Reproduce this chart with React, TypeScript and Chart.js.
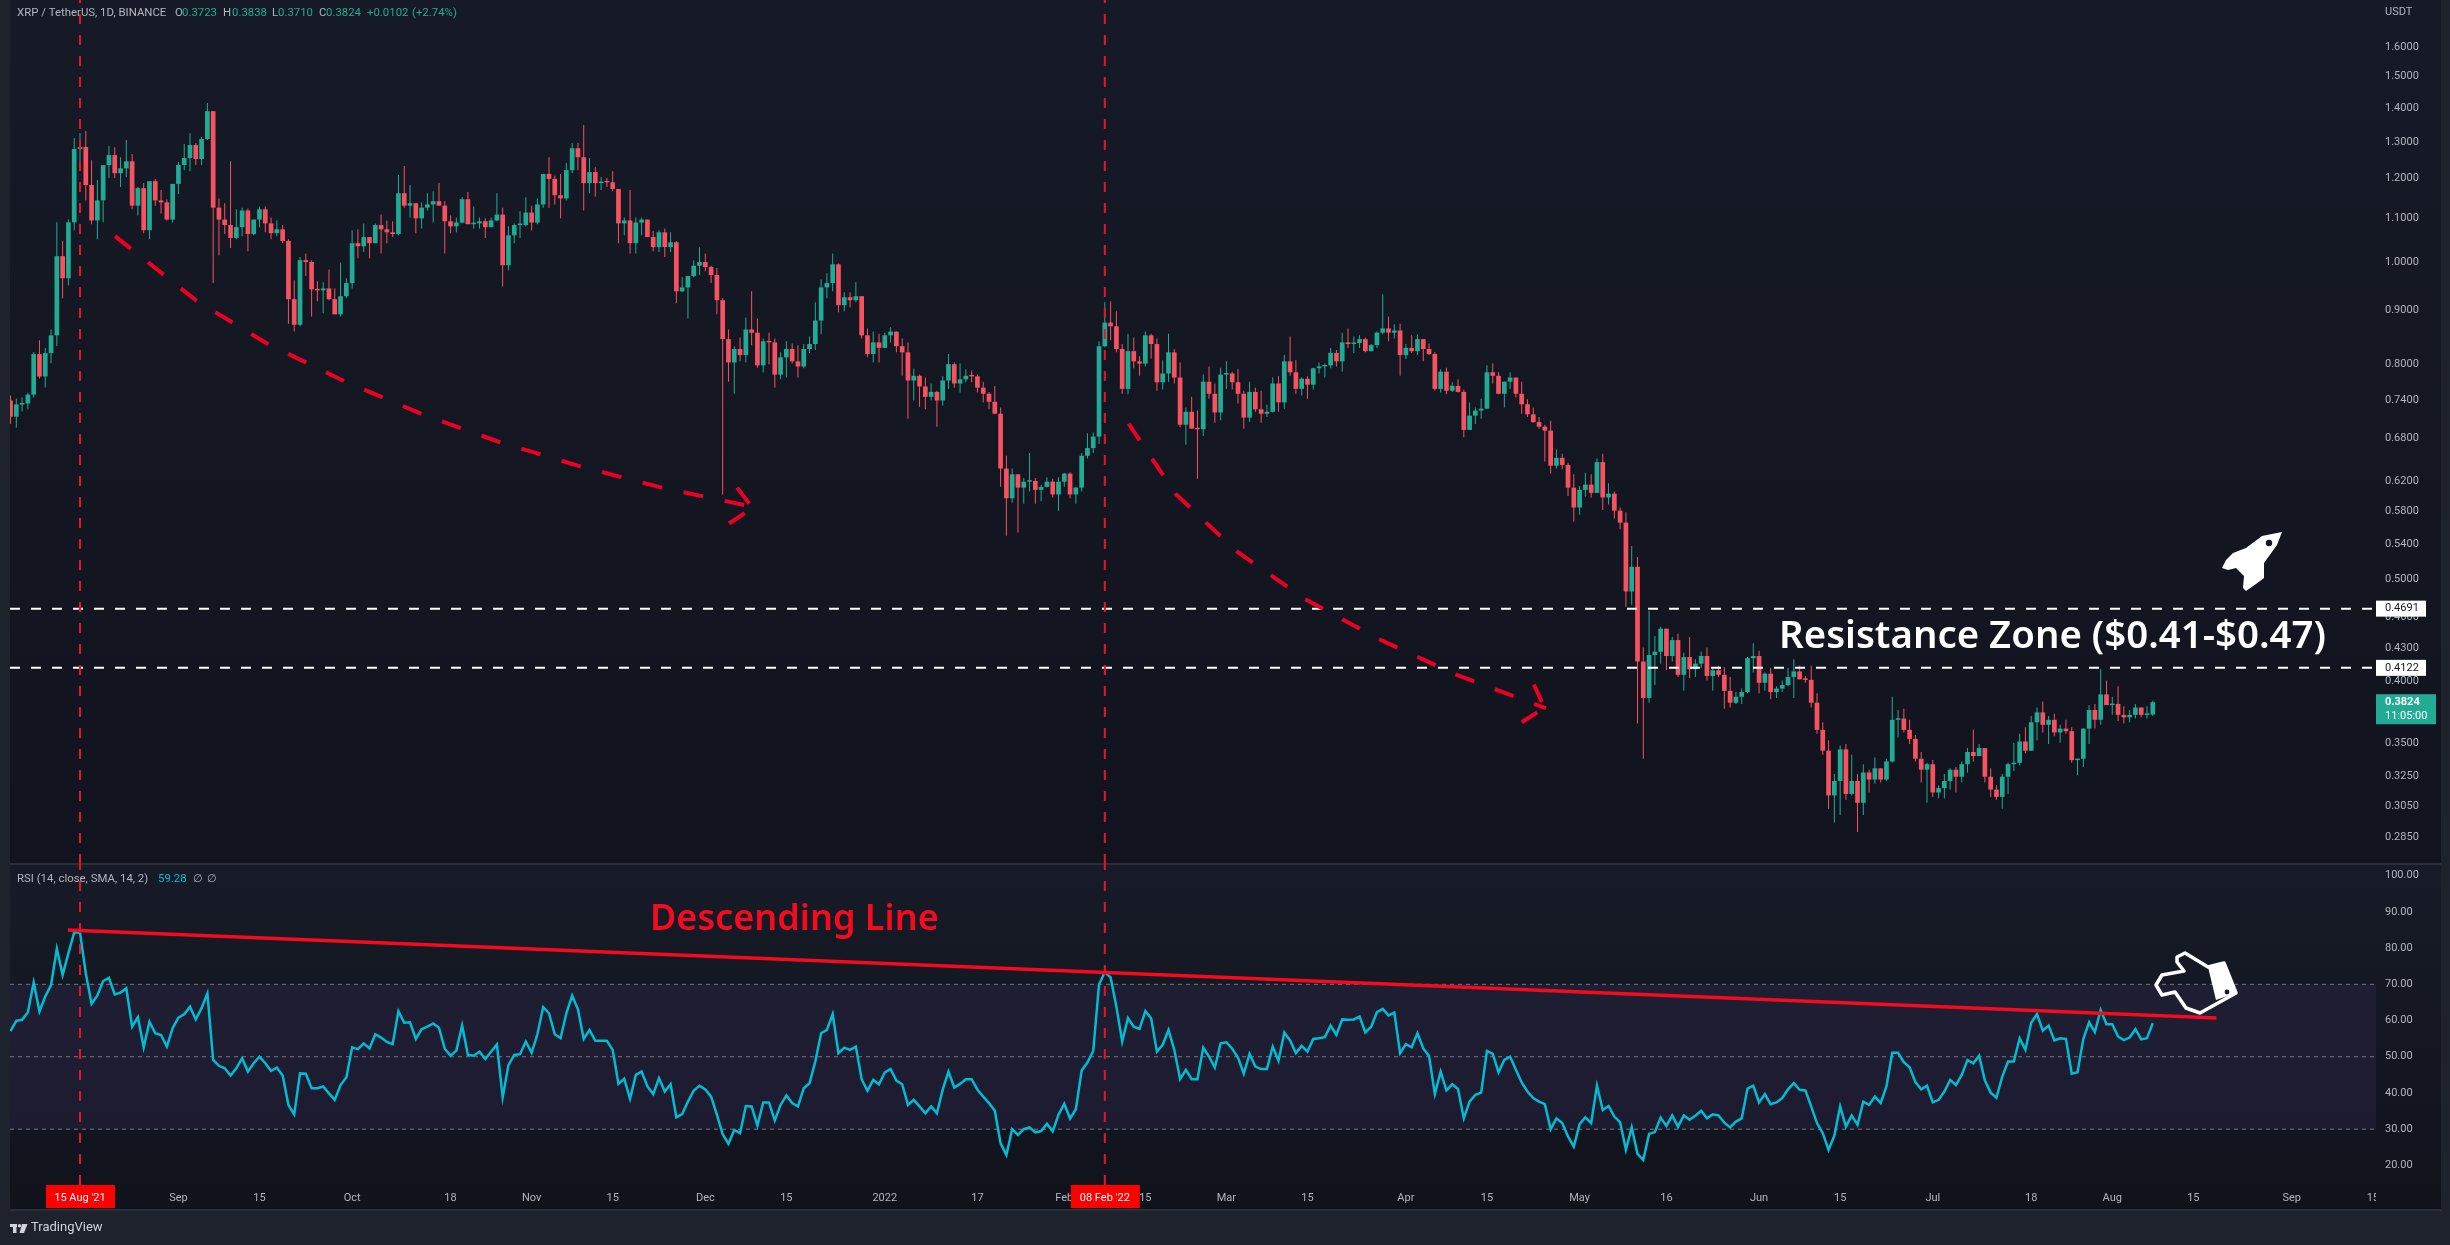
import React, { useEffect, useRef } from "react";
import { Chart, registerables } from "chart.js";

Chart.register(...registerables);

const firstOpen = 0.739;
const closes = [
  .7134,.7326,.7342,.7486,.8178,.7788,.8196,.852,1.0128,.9652,
  1.0904,1.2798,1.2854,1.183,1.095,1.144,1.2355,1.263,1.214,1.227,
  1.246,1.131,1.175,1.072,1.193,1.144,1.139,1.097,1.186,1.236,
  1.255,1.291,1.252,1.308,1.390,1.126,1.097,1.084,1.054,1.079,
  1.119,1.063,1.097,1.122,1.088,1.065,1.074,1.047,.922,.872,
  1.004,1.000,.942,.940,.944,.922,.892,.928,.955,1.042,
  1.035,1.056,1.042,1.084,1.074,1.067,1.063,1.162,1.131,1.137,
  1.100,1.126,1.134,1.142,1.131,1.093,1.081,1.090,1.147,1.086,
  1.088,1.093,1.079,1.095,1.109,.993,1.060,1.084,1.084,1.114,
  1.090,1.134,1.212,1.199,1.157,1.149,1.222,1.282,1.257,1.188,
  1.217,1.188,1.191,1.190,1.173,1.088,1.095,1.042,1.090,1.097,
  1.056,1.033,1.067,1.033,1.044,.938,.946,.970,.992,1.000,
  .989,.972,.920,.845,.803,.827,.816,.863,.857,.798,
  .841,.839,.782,.812,.827,.805,.796,.827,.836,.880,
  .946,.955,.995,.910,.926,.920,.928,.852,.818,.839,
  .829,.852,.859,.832,.821,.772,.780,.762,.745,.753,
  .739,.772,.800,.767,.774,.780,.779,.760,.750,.737,
  .718,.637,.597,.629,.611,.619,.620,.608,.612,.619,
  .602,.619,.630,.602,.611,.655,.666,.683,.832,.876,
  .869,.827,.758,.823,.805,.801,.852,.836,.769,.784,
  .821,.777,.701,.721,.695,.694,.770,.750,.720,.782,
  .784,.769,.750,.712,.753,.725,.718,.721,.767,.736,
  .805,.786,.758,.775,.765,.793,.796,.798,.820,.805,
  .839,.836,.838,.845,.823,.834,.857,.865,.857,.861,
  .816,.829,.823,.845,.827,.818,.758,.787,.755,.763,
  .753,.693,.715,.723,.726,.786,.780,.750,.770,.777,
  .750,.733,.717,.705,.698,.692,.641,.652,.642,.611,
  .585,.608,.615,.604,.646,.598,.603,.581,.566,.487,
  .514,.418,.386,.424,.427,.449,.423,.438,.406,.422,
  .411,.416,.423,.405,.410,.406,.392,.382,.387,.391,
  .421,.423,.399,.407,.391,.394,.397,.404,.409,.402,
  .4015,.382,.360,.344,.312,.322,.345,.313,.322,.307,
  .328,.323,.331,.323,.336,.368,.369,.360,.353,.338,
  .330,.334,.314,.317,.322,.330,.325,.334,.343,.340,
  .346,.325,.316,.311,.325,.334,.335,.351,.344,.366,
  .374,.364,.368,.358,.361,.359,.337,.338,.361,.376,
  .368,.389,.380,.381,.372,.370,.372,.378,.372,.3723,
  .3824,
];
const highs = [
  .747,.7422,.7438,.7518,.8214,.843,.8286,.8629,1.0904,1.0467,
  1.0974,1.3108,1.3253,1.3311,1.249,1.196,1.2355,1.288,1.285,1.257,
  1.305,1.266,1.178,1.188,1.193,1.199,1.170,1.147,1.186,1.244,
  1.294,1.325,1.297,1.314,1.415,1.390,1.149,1.137,1.246,1.122,
  1.126,1.124,1.097,1.129,1.129,1.102,1.095,1.084,1.051,.961,
  1.011,1.019,1.004,.959,.957,.984,.944,.999,.965,1.072,
  1.074,1.088,1.056,1.088,1.109,1.095,1.093,1.209,1.233,1.183,
  1.137,1.139,1.162,1.167,1.188,1.142,1.107,1.102,1.152,1.165,
  1.129,1.102,1.100,1.102,1.162,1.126,1.081,1.088,1.117,1.152,
  1.131,1.149,1.212,1.257,1.207,1.212,1.241,1.297,1.297,1.349,
  1.255,1.230,1.204,1.201,1.219,1.173,1.102,1.170,1.102,1.102,
  1.097,1.070,1.072,1.076,1.067,1.047,.967,.970,1.004,1.033,
  1.019,.992,.987,.924,.863,.832,.848,.886,.938,.884,
  .846,.857,.846,.821,.841,.837,.834,.836,.850,.916,
  .963,.976,1.019,.997,.936,.936,.957,.928,.865,.859,
  .855,.857,.867,.859,.846,.839,.792,.782,.777,.767,
  .755,.779,.818,.803,.801,.791,.789,.782,.770,.753,
  .763,.728,.655,.637,.629,.624,.659,.624,.615,.625,
  .623,.625,.631,.632,.612,.659,.688,.689,.841,.916,
  .918,.898,.836,.855,.848,.814,.859,.855,.846,.807,
  .855,.827,.803,.728,.745,.723,.782,.796,.767,.794,
  .805,.787,.791,.755,.770,.760,.755,.732,.777,.779,
  .816,.850,.807,.777,.779,.794,.803,.801,.829,.825,
  .857,.865,.850,.852,.848,.836,.859,.932,.888,.873,
  .874,.836,.852,.854,.845,.837,.821,.791,.794,.769,
  .774,.757,.736,.728,.742,.798,.801,.786,.770,.786,
  .777,.770,.741,.728,.713,.701,.707,.664,.658,.645,
  .629,.613,.631,.629,.651,.658,.617,.606,.585,.579,
  .538,.525,.431,.467,.442,.451,.449,.441,.444,.426,
  .441,.420,.427,.431,.413,.414,.413,.404,.391,.394,
  .422,.435,.428,.408,.412,.396,.401,.412,.420,.414,
  .405,.414,.390,.366,.352,.327,.348,.349,.341,.327,
  .334,.330,.339,.331,.338,.387,.376,.377,.368,.356,
  .343,.335,.337,.319,.327,.331,.332,.336,.346,.360,
  .349,.346,.331,.319,.327,.335,.350,.357,.362,.371,
  .378,.383,.371,.373,.364,.368,.362,.338,.361,.380,
  .381,.411,.401,.387,.396,.379,.376,.381,.378,.379,
  .3838,
];
const lows = [
  .7025,.6965,.7214,.7246,.7438,.7754,.7601,.8016,.8322,.924,
  .9505,1.072,1.230,1.144,1.086,1.051,1.0904,1.201,1.201,1.178,
  1.204,1.122,1.107,1.065,1.051,1.131,1.112,1.095,1.090,1.160,
  1.222,1.219,1.236,1.236,1.305,.955,1.015,1.063,1.031,1.051,
  1.058,1.024,1.060,1.079,1.067,1.051,1.058,1.042,.874,.859,
  .869,.970,.888,.918,.894,.920,.892,.888,.924,.944,
  1.008,1.022,1.008,1.042,1.019,1.042,1.056,1.060,1.126,1.102,
  1.065,1.076,1.119,1.090,1.131,1.019,1.065,1.067,1.088,1.086,
  1.076,1.076,1.054,1.079,1.093,.948,.982,1.042,1.054,1.081,
  1.072,1.086,1.126,1.126,1.134,1.100,1.144,1.214,1.222,1.119,
  1.162,1.154,1.170,1.178,1.167,1.042,1.060,1.019,1.019,1.060,
  1.056,1.024,1.022,1.011,1.022,.914,.936,.884,.967,.972,
  .980,.955,.892,.602,.770,.750,.805,.803,.834,.794,
  .786,.800,.760,.774,.777,.801,.777,.793,.820,.825,
  .854,.924,.938,.896,.898,.906,.916,.846,.812,.803,
  .803,.829,.839,.821,.780,.710,.739,.729,.725,.739,
  .698,.731,.758,.760,.752,.769,.769,.752,.736,.725,
  .717,.612,.550,.591,.554,.590,.606,.590,.593,.611,
  .598,.581,.612,.597,.590,.606,.651,.659,.672,.830,
  .843,.821,.750,.749,.793,.780,.796,.810,.755,.757,
  .770,.767,.697,.671,.695,.623,.684,.742,.704,.708,
  .758,.757,.734,.695,.705,.721,.704,.713,.720,.721,
  .726,.780,.750,.747,.742,.757,.784,.777,.793,.796,
  .787,.829,.820,.829,.821,.823,.829,.854,.841,.846,
  .780,.809,.820,.816,.805,.816,.755,.752,.749,.753,
  .752,.682,.693,.702,.710,.726,.767,.749,.728,.758,
  .744,.718,.713,.704,.695,.647,.630,.637,.636,.600,
  .567,.576,.599,.598,.604,.582,.589,.571,.558,.471,
  .473,.365,.338,.382,.397,.416,.410,.418,.404,.392,
  .403,.404,.412,.401,.392,.404,.377,.378,.381,.381,
  .390,.408,.390,.392,.385,.386,.391,.396,.386,.402,
  .399,.378,.357,.341,.303,.294,.299,.309,.312,.288,
  .299,.314,.320,.321,.322,.335,.354,.358,.349,.336,
  .321,.307,.311,.310,.310,.316,.314,.321,.328,.336,
  .340,.321,.311,.309,.303,.313,.329,.333,.342,.344,
  .352,.358,.349,.355,.350,.357,.335,.326,.332,.349,
  .361,.364,.380,.372,.367,.365,.366,.369,.370,.369,
  .3710,
];
const rsiValues = [
  57.1,59.9,60.2,62.3,70.5,62.5,66.6,69.8,79.8,72.6,
  78.6,84.3,84.3,73.0,64.6,66.9,70.9,71.8,67.2,67.7,
  68.9,58.3,60.9,52.6,59.7,56.5,56.0,52.8,57.9,60.8,
  61.7,63.8,60.3,63.4,67.5,49.1,47.5,46.8,44.8,46.8,
  49.6,45.9,48.2,50.0,48.2,46.1,47.0,44.8,36.7,34.1,
  45.4,45.3,41.3,41.3,41.8,39.9,38.1,42.2,44.3,52.6,
  52.1,53.7,52.3,56.2,55.3,54.1,53.5,62.6,59.4,59.5,
  54.9,57.6,58.3,59.2,58.0,52.2,50.3,51.7,58.6,50.5,
  50.3,51.4,49.4,51.4,53.4,38.8,47.7,50.5,50.7,54.2,
  51.1,56.2,63.7,62.0,56.2,55.1,62.0,66.9,63.1,54.9,
  57.4,54.4,54.4,54.4,51.9,42.5,43.9,38.4,45.0,45.9,
  41.8,39.7,44.1,40.4,42.4,33.3,34.2,37.6,40.7,42.0,
  41.0,39.0,34.0,28.6,26.0,29.8,28.9,36.4,36.3,31.0,
  37.4,37.4,32.4,36.7,39.3,37.2,36.3,41.3,42.7,48.7,
  56.5,57.4,61.8,51.0,52.5,51.9,52.8,43.8,40.6,43.6,
  42.4,45.7,46.6,43.4,42.4,36.7,38.1,36.3,34.4,36.3,
  34.4,40.9,45.9,41.5,42.5,43.8,43.8,40.9,39.0,37.2,
  35.1,26.1,22.9,30.0,28.4,30.0,30.5,29.1,29.5,31.5,
  29.4,34.0,37.0,32.9,35.5,46.2,48.4,51.6,70.0,73.3,
  71.9,63.8,54.2,60.7,58.3,57.7,62.6,60.6,51.4,53.3,
  57.4,51.9,43.8,46.4,43.8,43.8,52.5,50.0,47.0,53.7,
  54.0,52.2,49.8,45.3,50.8,47.3,46.6,46.6,52.8,48.9,
  56.7,54.5,51.0,53.0,51.4,54.9,55.1,55.4,58.6,56.0,
  60.3,60.2,60.3,61.1,56.7,58.3,62.3,63.2,61.4,62.2,
  51.0,53.5,52.6,56.5,52.3,50.2,39.7,45.9,40.7,42.4,
  41.1,33.0,37.6,39.5,40.1,51.6,50.8,45.7,49.1,50.0,
  46.4,42.9,40.4,38.6,37.6,36.9,30.0,33.0,31.7,28.0,
  25.2,31.4,33.3,31.7,42.0,35.3,36.4,33.5,31.9,24.3,
  30.5,23.2,21.5,28.7,29.2,33.2,30.9,33.8,30.7,33.8,
  32.6,33.7,35.1,33.0,34.1,33.8,31.8,30.5,32.1,33.0,
  41.2,42.0,37.4,39.7,36.9,37.4,38.6,41.0,42.7,40.9,
  40.7,36.3,31.7,28.9,24.3,28.2,36.3,30.7,33.8,31.2,
  37.6,36.7,39.0,37.2,41.8,51.1,51.1,48.5,47.1,43.0,
  41.0,42.0,37.4,38.1,40.4,43.6,42.2,45.0,49.1,48.2,
  50.3,43.4,40.1,38.7,44.5,48.7,48.7,55.1,51.9,59.4,
  61.8,57.2,58.6,54.5,55.1,54.9,45.3,45.7,54.9,59.5,
  56.8,62.9,59.0,59.0,55.6,54.6,55.3,57.6,54.8,55.1,
  59.28,
];

const priceTicks = [1.6,1.5,1.4,1.3,1.2,1.1,1.0,.9,.8,.74,.68,.62,.58,.54,.5,.46,.43,.4,.35,.325,.305,.285];
const rsiTicks = [100,90,80,70,60,50,40,30,20];
const tickDays = [29,43,59,76,90,104,120,134,151,167,182,196,210,224,241,255,271,286,302,316,332,349,363,377,394,408];
const tickLabels = ["Sep","15","Oct","18","Nov","15","Dec","15","2022","17","Feb","15","Mar","15","Apr","15","May","16","Jun","15","Jul","18","Aug","15","Sep","15"];
const markedDays = [12, 189];
const markedLabels = ["15 Aug '21", "08 Feb '22"];
const resistanceLevels = [0.4691, 0.4122];
const rsiLevels = [70, 50, 30];
const arrowOneDays = [18.05,32,44.3,57.4,70.9,84.4,98.4,112.5,128.1];
const arrowOnePrices = [1.058,.92,.837,.772,.718,.675,.64,.611,.586];
const arrowTwoDays = [193.1,201.2,211.7,223.6,236.3,249.3,262.8,265.2];
const arrowTwoPrices = [.7025,.603,.532,.479,.439,.407,.3815,.3775];
const arrowHeads = [
  { days: [125.5,127.6], prices: [.611,.59] },
  { days: [124.1,126.8], prices: [.565,.578] },
  { days: [263.1,264.5], prices: [.3975,.3825] },
  { days: [261,263.7], prices: [.366,.374] },
];
const trendDays = [9.9, 381];
const trendRsi = [85, 60.7];

const UP = "#22ab94";
const DOWN = "#f7525f";
const TEXT = "#b2b5be";
const FONT = "Roboto, 'Liberation Sans', sans-serif";
const X_MIN = -0.09;
const X_MAX = 408.55;

const opens = closes.map((_, i) => (i === 0 ? firstOpen : closes[i - 1]));
const candleColors = closes.map((c, i) => (c >= opens[i] ? UP : DOWN));
const days = closes.map((_, i) => i);

function lineSet(xs: number[], ys: number[], yAxisID: string, color: string, width: number, dash: number[], order: number) {
  return {
    type: "line" as const,
    data: xs.map((x, i) => ({ x, y: ys[i] })),
    xAxisID: "x",
    yAxisID,
    borderColor: color,
    borderWidth: width,
    borderDash: dash,
    pointRadius: 0,
    tension: 0,
    order,
    borderCapStyle: "butt" as const,
  };
}

function polygon(ctx: CanvasRenderingContext2D, pts: number[][]) {
  ctx.beginPath();
  pts.forEach((p, i) => (i ? ctx.lineTo(p[0], p[1]) : ctx.moveTo(p[0], p[1])));
  ctx.closePath();
}

function fixAxis(width: number | null, height: number | null) {
  return (scale: any) => {
    if (width !== null) scale.width = width;
    if (height !== null) scale.height = height;
    scale.paddingTop = 0;
    scale.paddingBottom = 0;
    scale.paddingLeft = 0;
    scale.paddingRight = 0;
  };
}

const panelPlugin = {
  id: "panels",
  beforeDraw(chart: any) {
    const { ctx, chartArea, scales } = chart;
    const { left, right, bottom } = chartArea;
    const split = scales.price.bottom;
    ctx.save();
    ctx.fillStyle = "#1e222d";
    ctx.fillRect(0, 0, 2450, 1245);
    const g1 = ctx.createLinearGradient(0, 0, 0, split);
    g1.addColorStop(0, "#161a26");
    g1.addColorStop(1, "#11141e");
    ctx.fillStyle = g1;
    ctx.fillRect(left, 0, 2441 - left, split);
    const g2 = ctx.createLinearGradient(0, split, 0, bottom + 25);
    g2.addColorStop(0, "#171b27");
    g2.addColorStop(1, "#10131c");
    ctx.fillStyle = g2;
    ctx.fillRect(left, split, 2441 - left, bottom + 25 - split);
    const y70 = scales.rsi.getPixelForValue(rsiLevels[0]);
    const y30 = scales.rsi.getPixelForValue(rsiLevels[2]);
    ctx.fillStyle = "rgba(126,87,194,0.1)";
    ctx.fillRect(left, y70, right - left, y30 - y70);
    ctx.fillStyle = "#2a2e39";
    ctx.fillRect(left, split - 1, 2441 - left, 2);
    ctx.fillRect(left, bottom + 24, 2441 - left, 2);
    ctx.restore();
  },
  beforeDatasetsDraw(chart: any) {
    const { ctx, chartArea } = chart;
    ctx.save();
    ctx.fillStyle = "#10131c";
    ctx.fillRect(chartArea.right, chartArea.bottom + 1, 16, 22);
    ctx.restore();
  },
  afterDraw(chart: any) {
    const { ctx, chartArea, scales } = chart;
    ctx.save();
    ctx.textBaseline = "middle";
    ctx.textAlign = "left";

    // legends
    const put = (s: string, x: number, y: number, color: string, font: string) => {
      ctx.fillStyle = color;
      ctx.font = font;
      ctx.fillText(s, x, y);
    };
    const small = `11.4px ${FONT}`;
    put("XRP / TetherUS, 1D, BINANCE", 17, 13, TEXT, small);
    [["O", 175, "0.3723", 182], ["H", 223, "0.3838", 232], ["L", 272, "0.3710", 278], ["C", 319, "0.3824", 326]].forEach((t: any) => {
      put(t[0], t[1], 13, TEXT, small);
      put(t[2], t[3], 13, UP, small);
    });
    put("+0.0102", 367, 13, UP, small);
    put("(+2.74%)", 412, 13, UP, small);
    put("USDT", 2385, 12, TEXT, `11px ${FONT}`);
    put("RSI (14, close, SMA, 14, 2)", 17, 879, TEXT, small);
    put("59.28", 158, 879, "#00bcd4", small);
    put("\u2205", 193, 879, TEXT, small);
    put("\u2205", 207, 879, TEXT, small);

    // price tags
    const bx = chartArea.right;
    resistanceLevels.forEach((lv) => {
      const y = scales.price.getPixelForValue(lv);
      ctx.fillStyle = "#ffffff";
      ctx.fillRect(bx, y - 8, 50, 16);
      put(lv.toFixed(4), 2385, y, "#131722", `11px ${FONT}`);
    });
    const ly = scales.price.getPixelForValue(closes[closes.length - 1]);
    ctx.fillStyle = UP;
    ctx.fillRect(bx, ly - 8, 60, 30);
    put("0.3824", 2385, ly, "#ffffff", `bold 11px ${FONT}`);
    put("11:05:00", 2385, ly + 14, "#ffffff", `11px ${FONT}`);

    // date tags
    markedDays.forEach((d, i) => {
      const x = scales.x.getPixelForValue(d);
      ctx.fillStyle = "#ff0000";
      ctx.fillRect(x - 34, chartArea.bottom, 69, 23);
      ctx.textAlign = "center";
      put(markedLabels[i], x, chartArea.bottom + 13, "#ffffff", `11px ${FONT}`);
      ctx.textAlign = "left";
    });

    // annotations
    put("Resistance Zone ($0.41-$0.47)", 1779, 637, "#ffffff", `600 38.4px 'Noto Sans', sans-serif`);
    put("Descending Line", 650, 920, "#f50a1e", `600 36px 'Noto Sans', sans-serif`);

    // rocket
    ctx.fillStyle = "#ffffff";
    polygon(ctx, [[2282,532],[2262,536],[2246,548],[2233,553],[2226,560],[2222,568],[2228,570],[2236,568],[2244,576],[2243,588],[2246,591],[2256,584],[2264,578],[2264,563],[2277,545]]);
    ctx.fill();
    ctx.fillStyle = "#131722";
    ctx.beginPath();
    ctx.arc(2269, 543, 3.2, 0, Math.PI * 2);
    ctx.fill();

    // hand
    polygon(ctx, [[2177,957],[2185,953],[2208,967],[2224,963],[2236,993],[2200,1013],[2186,1008],[2175,992],[2162,995],[2156,985],[2162,975],[2184,971],[2177,962]]);
    ctx.strokeStyle = "#ffffff";
    ctx.lineWidth = 3.5;
    ctx.lineJoin = "round";
    ctx.stroke();
    ctx.fillStyle = "#ffffff";
    polygon(ctx, [[2208,967],[2224,963],[2236,993],[2216,1000]]);
    ctx.fill();
    ctx.fillStyle = "#161a26";
    ctx.beginPath();
    ctx.arc(2227, 992, 2.4, 0, Math.PI * 2);
    ctx.fill();

    // footer
    ctx.fillStyle = "#d1d4dc";
    ctx.fillRect(10, 1224, 7, 3);
    ctx.fillRect(13, 1224, 3.5, 9);
    ctx.beginPath();
    ctx.arc(19.5, 1225.7, 1.7, 0, Math.PI * 2);
    ctx.fill();
    polygon(ctx, [[22,1224],[27.5,1224],[24,1233],[19.5,1233]]);
    ctx.fill();
    put("TradingView", 31, 1228, "#d1d4dc", `13px ${FONT}`);
    ctx.restore();
  },
};

export default function App() {
  const ref = useRef<HTMLCanvasElement>(null);
  useEffect(() => {
    document.body.style.margin = "0";
    document.body.style.background = "#1e222d";
    const priceMin = 0.2686;
    const priceMax = 1.772;
    const rsiMin = 14.6;
    const rsiMax = 103.2;
    const chart = new Chart(ref.current as HTMLCanvasElement, {
      type: "bar",
      data: {
        datasets: [
          ...markedDays.map((d) => lineSet([d, d], [priceMin, priceMax], "price", "#e8132a", 2, [10, 11], 0)),
          ...markedDays.map((d) => lineSet([d, d], [rsiMin, rsiMax], "rsi", "#e8132a", 2, [10, 11], 0)),
          ...resistanceLevels.map((lv) => lineSet([X_MIN, X_MAX], [lv, lv], "price", "#ffffff", 2, [10, 11], 1)),
          ...rsiLevels.map((lv) => lineSet([X_MIN, X_MAX], [lv, lv], "rsi", "#787b86", 1, [4, 4], 5)),
          lineSet(arrowOneDays, arrowOnePrices, "price", "#ee0022", 4, [20, 22], 0),
          lineSet(arrowTwoDays, arrowTwoPrices, "price", "#ee0022", 4, [20, 22], 0),
          ...arrowHeads.map((a) => lineSet(a.days, a.prices, "price", "#ee0022", 4, [], 0)),
          lineSet(trendDays, trendRsi, "rsi", "#f70a1e", 3.5, [], 0),
          lineSet(days, rsiValues, "rsi", "#00bcd4", 2.5, [], 2),
          {
            type: "bar" as const,
            data: days.map((d) => ({ x: d, y: [opens[d], closes[d]] })),
            xAxisID: "x",
            yAxisID: "price",
            backgroundColor: candleColors,
            barThickness: 4.7,
            maxBarThickness: 4.7,
            grouped: false,
            minBarLength: 1.5,
            inflateAmount: 0,
            order: 3,
          },
          {
            type: "bar" as const,
            data: days.map((d) => ({ x: d, y: [lows[d], highs[d]] })),
            xAxisID: "x",
            yAxisID: "price",
            backgroundColor: candleColors,
            barThickness: 1,
            maxBarThickness: 1,
            grouped: false,
            inflateAmount: 0,
            order: 4,
          },
        ] as any,
      },
      options: {
        responsive: false,
        animation: false,
        devicePixelRatio: 1,
        events: [],
        layout: { padding: { left: 10, right: 9, top: 0, bottom: 35 } },
        plugins: { legend: { display: false }, tooltip: { enabled: false }, title: { display: false } },
        scales: {
          x: {
            type: "linear",
            min: X_MIN,
            max: X_MAX,
            offset: false,
            bounds: "data",
            grid: { display: false, offset: false, drawTicks: false },
            border: { display: false },
            afterBuildTicks(scale: any) {
              scale.ticks = tickDays.map((value) => ({ value }));
            },
            afterFit: fixAxis(null, 25),
            ticks: {
              autoSkip: false,
              maxRotation: 0,
              padding: 7,
              color: TEXT,
              font: { family: FONT, size: 11 },
              callback: (v: any) => tickLabels[tickDays.indexOf(Number(v))] ?? "",
            },
          },
          price: {
            type: "logarithmic",
            position: "right",
            stack: "panes",
            stackWeight: 864,
            min: priceMin,
            max: priceMax,
            bounds: "data",
            beginAtZero: false,
            grid: { display: false, drawTicks: false },
            border: { display: false },
            afterBuildTicks(scale: any) {
              scale.ticks = priceTicks.map((value) => ({ value }));
            },
            afterFit: fixAxis(65, null),
            ticks: {
              autoSkip: false,
              padding: 9,
              crossAlign: "near",
              color: TEXT,
              font: { family: FONT, size: 11 },
              callback: (v: any) => Number(v).toFixed(4),
            },
          },
          rsi: {
            type: "linear",
            position: "right",
            stack: "panes",
            stackWeight: 321,
            min: rsiMin,
            max: rsiMax,
            bounds: "data",
            beginAtZero: false,
            grid: { display: false, drawTicks: false },
            border: { display: false },
            afterBuildTicks(scale: any) {
              scale.ticks = rsiTicks.map((value) => ({ value }));
            },
            afterFit: fixAxis(65, null),
            ticks: {
              autoSkip: false,
              padding: 9,
              crossAlign: "near",
              color: TEXT,
              font: { family: FONT, size: 11 },
              callback: (v: any) => Number(v).toFixed(2),
            },
          },
        },
      } as any,
      plugins: [panelPlugin],
    });
    return () => chart.destroy();
  }, []);
  return <canvas ref={ref} width={2450} height={1245} style={{ display: "block" }} />;
}
